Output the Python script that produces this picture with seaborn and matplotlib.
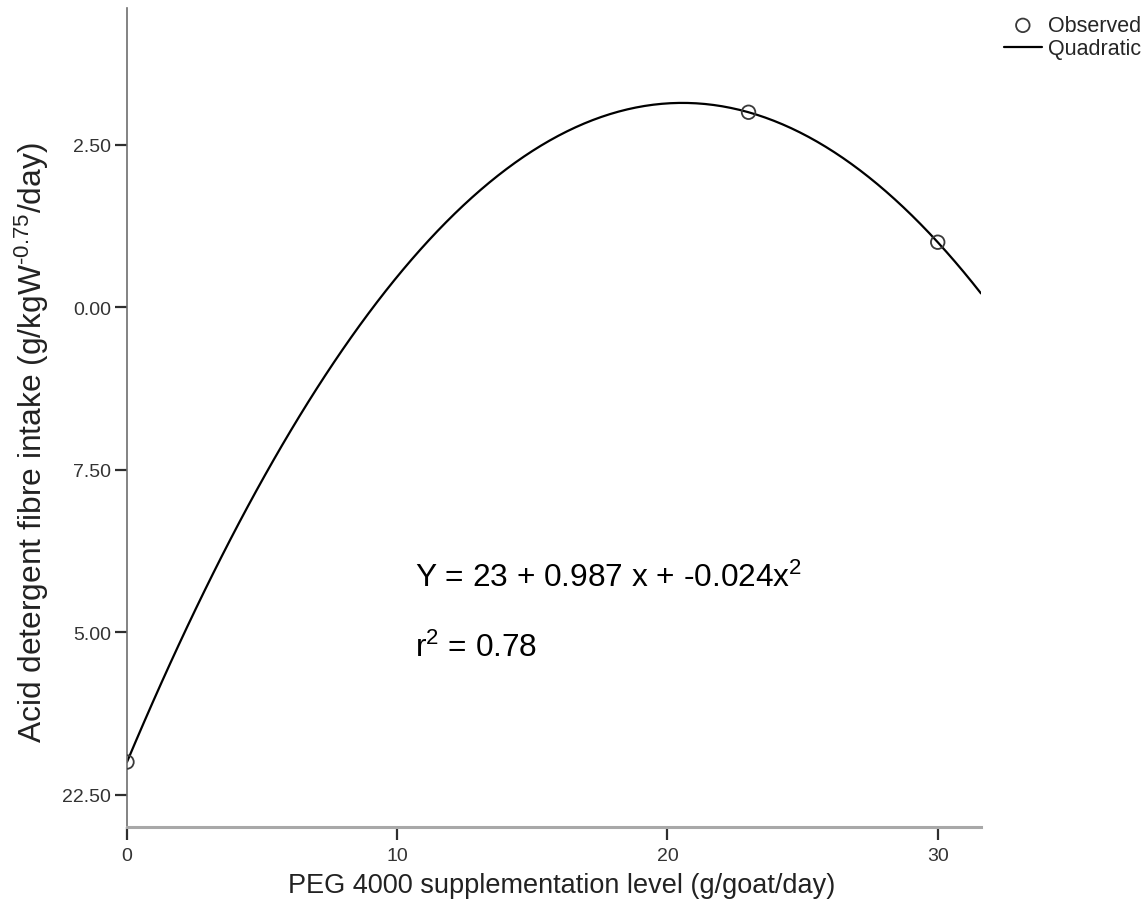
import numpy as np
import pandas as pd
import matplotlib
matplotlib.use("Agg")
import matplotlib.pyplot as plt
import seaborn as sns

# datos observados (nivel de PEG vs consumo de FDA)
peg_nivel = [0, 23, 30]
fda_consumo = [23, 33, 31]

y_ticks = [22.5, 25.0, 27.5, 30.0, 32.5]
y_tick_labels = ["22.50", "5.00", "7.50", "0.00", "2.50"]
x_ticks = [0, 10, 20, 30]

sns.set_style("ticks")
plt.rcParams["font.family"] = ["Liberation Sans", "DejaVu Sans"]
plt.rcParams["mathtext.fontset"] = "custom"
plt.rcParams["mathtext.rm"] = "Liberation Sans"
plt.rcParams["mathtext.it"] = "Liberation Sans"

df = pd.DataFrame({"peg": peg_nivel, "fda": fda_consumo})

fig = plt.figure(figsize=(11.48, 9.2), dpi=100)
ax = fig.add_axes([0.1106, 0.1, 0.7439, 0.8899])
ax.set_xlim(0, 31.6)
ax.set_ylim(22.0, 34.6)

sns.scatterplot(data=df, x="peg", y="fda", ax=ax, marker="o", s=95,
                facecolor="none", edgecolor="#3a3a3a", linewidth=1.3,
                label="Observed", zorder=3)
sns.regplot(data=df, x="peg", y="fda", ax=ax, order=2, ci=None,
            scatter=False, truncate=False, label="Quadratic",
            line_kws={"color": "black", "linewidth": 1.6})

ax.set_xlim(0, 31.6)
ax.set_ylim(22.0, 34.6)
ax.set_xticks(x_ticks)
ax.set_yticks(y_ticks)
ax.set_yticklabels(y_tick_labels)

sns.despine(ax=ax)
ax.spines["left"].set_color("#6e6e6e")
ax.spines["left"].set_linewidth(1.2)
ax.spines["bottom"].set_color("#a8a8a8")
ax.spines["bottom"].set_linewidth(2.2)
ax.tick_params(axis="both", length=9, width=1.6, color="#2e2e2e",
               labelsize=14, labelcolor="#333333")
ax.tick_params(axis="y", pad=2.5)
ax.tick_params(axis="x", pad=5.5)

ax.set_xlabel("PEG 4000 supplementation level (g/goat/day)", fontsize=19.5,
              color="#222222")
ax.set_ylabel("Acid detergent fibre intake (g/kgW$^{\u20100.75}$/day)",
              fontsize=22.9, color="#222222")
ax.xaxis.set_label_coords(0.509, -0.055)
ax.yaxis.set_label_coords(-0.089, 0.470)

ax.text(0.337, 0.294, "Y = 23 + 0.987 x + -0.024x$^2$", transform=ax.transAxes,
        fontsize=22.8, va="baseline", ha="left", color="black")
ax.text(0.337, 0.209, "r$^2$ = 0.78", transform=ax.transAxes,
        fontsize=22.8, va="baseline", ha="left", color="black")

handles, labels = ax.get_legend_handles_labels()
if ax.get_legend() is not None:
    ax.get_legend().remove()
fig.legend(handles, labels, loc="upper left",
           bbox_to_anchor=(1004 / 1148, 1 - 16 / 920), frameon=False,
           fontsize=15.5, handlelength=1.75, handletextpad=0.3,
           labelspacing=0.1, borderpad=0, borderaxespad=0)

fig.savefig("out.png", dpi=100)
